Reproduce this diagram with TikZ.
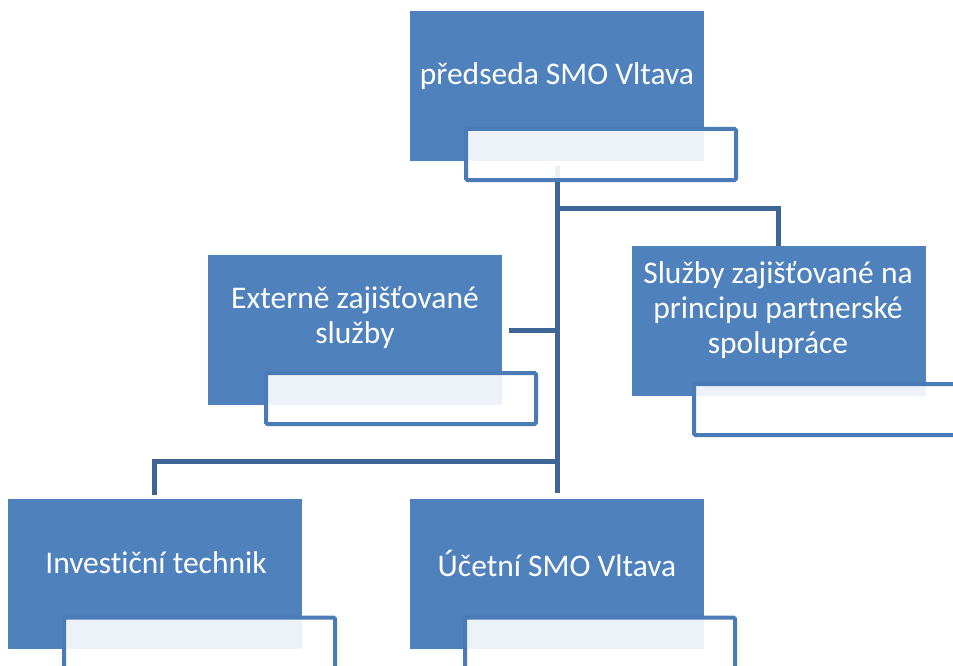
\documentclass[tikz,border=0pt]{standalone}
\usepackage{fontspec}
\setmainfont{Carlito}[Ligatures=NoCommon]
\definecolor{boxblue}{RGB}{79,129,189}
\definecolor{linkblue}{RGB}{63,101,150}
\definecolor{edgeblue}{RGB}{74,123,183}
\begin{document}
\begin{tikzpicture}[x=1pt,y=-1pt,
  bluebox/.style={fill=boxblue, draw=none, minimum width=294pt, minimum height=150pt, anchor=north west, inner sep=0pt, outer sep=0pt},
  whitebox/.style={fill=white, fill opacity=0.9, draw=edgeblue, line width=4pt, rounded corners=1.5pt, anchor=north west, inner sep=0pt, outer sep=0pt, minimum width=270pt, minimum height=51pt},
  lbl/.style={text=white, font=\fontsize{31.5}{35}\selectfont, align=center, inner sep=0pt},
  link/.style={draw=linkblue, line width=5pt}]
\useasboundingbox (0,0) rectangle (953,666);
\clip (0,0) rectangle (953,666);
% connectors
\coordinate (trunkTop) at (557,166);
\coordinate (trunkBot) at (557,493);
\coordinate (jR) at (557,208);
\coordinate (jM) at (557,330);
\coordinate (jB) at (557,461);
\coordinate (extEnd) at (509,330);
\coordinate (rCorner) at (778,208);
\coordinate (rEnd) at (778,246);
\coordinate (lCorner) at (154,461);
\coordinate (lEnd) at (154,495);
\draw[link] (trunkTop) -- (trunkBot);
\draw[link] (jR) -- (rCorner) -- (rEnd);
\draw[link] (extEnd) -- (jM);
\draw[link] (jB) -- (lCorner) -- (lEnd);
% boxes
\node[bluebox] (top) at (410,11) {};
\node[whitebox] (topW) at (466,129) {};
\node[lbl] (topT) at (557,76) {předseda SMO Vltava};

\node[bluebox] (ext) at (208,255) {};
\node[whitebox] (extW) at (266,373) {};
\node[lbl] (extT) at (355,318) {Externě zajišťované\\služby};

\node[bluebox] (par) at (632,246) {};
\node[whitebox] (parW) at (694,384) {};
\node[lbl] (parT) at (778,310) {Služby zajišťované na\\principu partnerské\\spolupráce};

\node[bluebox] (inv) at (8,499) {};
\node[whitebox, minimum width=271pt] (invW) at (64,617.5) {};
\node[lbl] (invT) at (156,563) {Investiční technik};

\node[bluebox] (uct) at (410,499) {};
\node[whitebox] (uctW) at (465,617.5) {};
\node[lbl] (uctT) at (557,563) {Účetní SMO Vltava};
\end{tikzpicture}
\end{document}
